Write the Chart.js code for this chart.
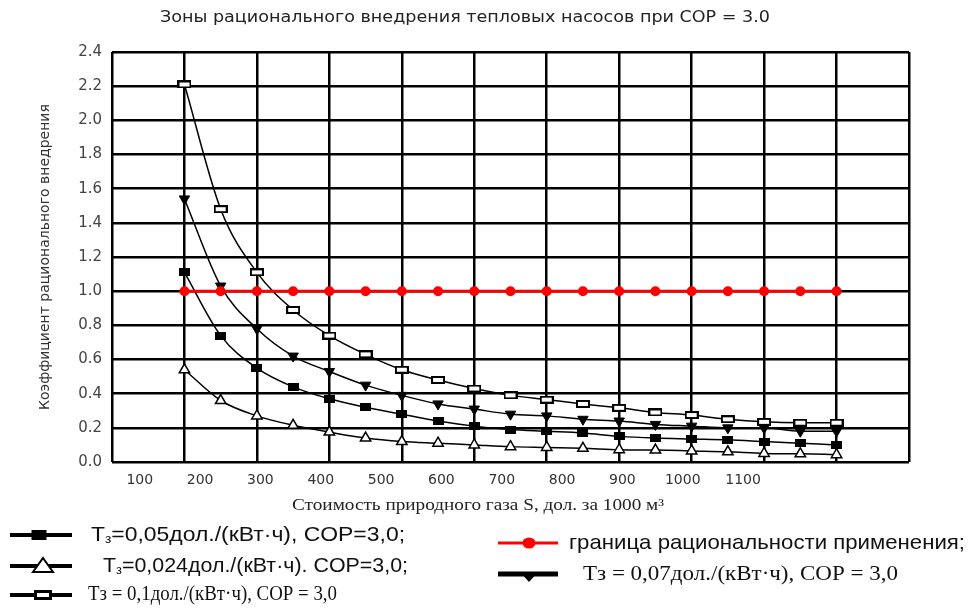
<!DOCTYPE html>
<html>
<head>
<meta charset="utf-8">
<script src="https://cdn.jsdelivr.net/npm/chart.js@4.4.1/dist/chart.umd.min.js"></script>
<style>
  html, body { margin: 0; padding: 0; background: #fff; }
  #wrap { width: 969px; height: 608px; position: relative; }
</style>
</head>
<body>
<div id="wrap"><canvas id="myChart"></canvas></div>
<script>
const chartTitle = 'Зоны рационального внедрения тепловых насосов при COP = 3.0';
const yTitle = 'Коэффициент рационального внедрения';
const xTitle = 'Стоимость природного газа S, дол. за 1000 м³';

// gas price S, $ per 1000 m3
const gasPrice = [100, 150, 200, 250, 300, 350, 400, 450, 500, 550, 600, 650, 700, 750, 800, 850, 900, 950, 1000];

const boundary   = [1.0, 1.0, 1.0, 1.0, 1.0, 1.0, 1.0, 1.0, 1.0, 1.0, 1.0, 1.0, 1.0, 1.0, 1.0, 1.0, 1.0, 1.0, 1.0];
const tariff005  = [1.11, 0.74, 0.55, 0.44, 0.37, 0.32, 0.28, 0.24, 0.21, 0.19, 0.18, 0.17, 0.15, 0.14, 0.135, 0.13, 0.12, 0.11, 0.10];
const tariff0024 = [0.54, 0.36, 0.27, 0.215, 0.175, 0.14, 0.12, 0.11, 0.10, 0.09, 0.085, 0.08, 0.072, 0.07, 0.065, 0.06, 0.05, 0.048, 0.043];
const tariff01   = [2.21, 1.48, 1.11, 0.89, 0.74, 0.63, 0.54, 0.48, 0.43, 0.39, 0.365, 0.34, 0.317, 0.29, 0.275, 0.25, 0.235, 0.23, 0.23];
const tariff007  = [1.54, 1.03, 0.78, 0.62, 0.53, 0.45, 0.39, 0.34, 0.31, 0.28, 0.27, 0.25, 0.24, 0.22, 0.21, 0.20, 0.20, 0.18, 0.18];

const xTickLabels = [100, 200, 300, 400, 500, 600, 700, 800, 900, 1000, 1100];
const yTickValues = [0, 0.2, 0.4, 0.6, 0.8, 1.0, 1.2, 1.4, 1.6, 1.8, 2.0, 2.2, 2.4];

const labels = {
  boundary: 'граница рациональности применения;',
  t005: 'Tз=0,05дол./(кВт·ч), COP=3,0;',
  t0024: 'Tз=0,024дол./(кВт·ч). COP=3,0;',
  t01: 'Tз = 0,1дол./(кВт·ч), COP = 3,0',
  t007: 'Tз = 0,07дол./(кВт·ч), COP = 3,0'
};

function pts(arr) {
  return gasPrice.map((s, i) => ({ x: s, y: arr[i] }));
}

function makeRect(w, h, fill, bw) {
  const c = document.createElement('canvas');
  c.width = w; c.height = h;
  const g = c.getContext('2d');
  g.fillStyle = '#000';
  g.fillRect(0, 0, w, h);
  if (bw > 0) {
    g.fillStyle = fill;
    g.fillRect(bw, bw, w - 2 * bw, h - 2 * bw);
  }
  return c;
}
const openRect = makeRect(14, 8, '#fff', 2);
const solidRect = makeRect(11, 8, '#000', 0);

const curve = {
  borderColor: '#000',
  borderWidth: 1.5,
  cubicInterpolationMode: 'monotone',
  pointBorderColor: '#000',
  fill: false
};

// legend drawn under the plot, two columns as in the source figure
const legendItems = [
  { key: 't005',  x1: 10,  x2: 72,  y: 535, lw: 4, color: '#000', mark: 'solidRect', mx: 39, tx: 91,  tw: 314, family: 'Liberation Sans', size: 21, sub: true },
  { key: 't0024', x1: 10,  x2: 72,  y: 566, lw: 4, color: '#000', mark: 'openTri',   mx: 43, tx: 103, tw: 305, family: 'Liberation Sans', size: 21, sub: true },
  { key: 't01',   x1: 10,  x2: 72,  y: 595, lw: 4, color: '#000', mark: 'openRect',  mx: 43, tx: 88,  tw: 249, family: 'Liberation Serif', size: 20, sub: false },
  { key: 'boundary', x1: 498, x2: 558, y: 543, lw: 3, color: '#ff0000', mark: 'redDot', mx: 529, tx: 569, tw: 396, family: 'Liberation Sans', size: 21, sub: false },
  { key: 't007',  x1: 498, x2: 558, y: 574, lw: 5, color: '#000', mark: 'solidTriDown', mx: 529, tx: 583, tw: 315, family: 'Liberation Serif', size: 21, sub: false }
];

// draw a line of text with a given font size, squeezed or widened to the width it has in the figure
function drawScaled(ctx, parts, family, size, x, y, width) {
  let total = 0;
  parts.forEach(p => {
    ctx.font = (p.sub ? size * 0.6 : size) + 'px "' + family + '"';
    total += ctx.measureText(p.t).width;
  });
  ctx.save();
  ctx.translate(x, y);
  ctx.scale(width / total, 1);
  let cx = 0;
  parts.forEach(p => {
    ctx.font = (p.sub ? size * 0.6 : size) + 'px "' + family + '"';
    ctx.fillText(p.t, cx, p.sub ? size * 0.22 : 0);
    cx += ctx.measureText(p.t).width;
  });
  ctx.restore();
}

function drawLegendText(ctx, item) {
  const text = labels[item.key];
  ctx.fillStyle = '#111';
  ctx.textBaseline = 'middle';
  ctx.textAlign = 'left';
  const parts = item.sub
    ? [{ t: text[0] }, { t: text[1], sub: true }, { t: text.slice(2) }]
    : [{ t: text }];
  drawScaled(ctx, parts, item.family, item.size, item.tx, item.y, item.tw);
}

function drawLegendMark(ctx, item) {
  const x = item.mx, y = item.y;
  ctx.lineWidth = 2;
  ctx.strokeStyle = '#000';
  if (item.mark === 'solidRect') {
    ctx.fillStyle = '#000';
    ctx.fillRect(x - 7.5, y - 5, 15, 10);
  } else if (item.mark === 'openRect') {
    ctx.fillStyle = '#000';
    ctx.fillRect(x - 9, y - 5, 18, 10);
    ctx.fillStyle = '#fff';
    ctx.fillRect(x - 6, y - 2, 12, 4);
  } else if (item.mark === 'openTri') {
    ctx.beginPath();
    ctx.moveTo(x, y - 8);
    ctx.lineTo(x + 10, y + 6);
    ctx.lineTo(x - 10, y + 6);
    ctx.closePath();
    ctx.fillStyle = '#fff';
    ctx.fill();
    ctx.stroke();
  } else if (item.mark === 'redDot') {
    ctx.fillStyle = '#ff0000';
    ctx.beginPath();
    ctx.ellipse(x, y, 6.5, 5.5, 0, 0, Math.PI * 2);
    ctx.fill();
  } else if (item.mark === 'solidTriDown') {
    ctx.fillStyle = '#000';
    ctx.beginPath();
    ctx.moveTo(x - 9, y - 2);
    ctx.lineTo(x + 9, y - 2);
    ctx.lineTo(x, y + 8);
    ctx.closePath();
    ctx.fill();
  }
}

const extrasPlugin = {
  id: 'extras',
  afterDraw(chart) {
    const ctx = chart.ctx;
    ctx.save();
    ctx.textBaseline = 'middle';
    ctx.textAlign = 'left';

    // chart title
    ctx.fillStyle = '#222';
    drawScaled(ctx, [{ t: chartTitle }], 'DejaVu Sans', 16, 160, 18, 610);

    // x axis title (sits left of the plot centre in the source)
    drawScaled(ctx, [{ t: xTitle }], 'Liberation Serif', 16, 292, 506, 372);

    legendItems.forEach(item => {
      ctx.strokeStyle = item.color;
      ctx.lineWidth = item.lw;
      ctx.beginPath();
      ctx.moveTo(item.x1, item.y);
      ctx.lineTo(item.x2, item.y);
      ctx.stroke();
      drawLegendMark(ctx, item);
      drawLegendText(ctx, item);
    });
    ctx.restore();
  }
};

Chart.defaults.font.family = 'DejaVu Sans';

const ctx = document.getElementById('myChart').getContext('2d');
const chart = new Chart(ctx, {
  type: 'line',
  data: {
    datasets: [{
      label: labels.boundary,
      data: pts(boundary),
      borderColor: '#ff0000',
      backgroundColor: '#ff0000',
      borderWidth: 3,
      pointRadius: 5,
      pointBorderWidth: 0,
      pointStyle: 'circle',
      fill: false
    }, {
      ...curve,
      label: labels.t005,
      data: pts(tariff005),
      pointStyle: solidRect,
      pointBackgroundColor: '#000'
    }, {
      ...curve,
      label: labels.t0024,
      data: pts(tariff0024),
      pointStyle: 'triangle',
      pointRadius: 6,
      pointBorderWidth: 1.5,
      pointBackgroundColor: '#fff'
    }, {
      ...curve,
      label: labels.t01,
      data: pts(tariff01),
      pointStyle: openRect
    }, {
      ...curve,
      label: labels.t007,
      data: pts(tariff007),
      pointStyle: 'triangle',
      pointRotation: 180,
      pointRadius: 6,
      pointBorderWidth: 1,
      pointBackgroundColor: '#000'
    }]
  },
  options: {
    responsive: true,
    maintainAspectRatio: false,
    animation: false,
    layout: { padding: { top: 52, right: 60, bottom: 116, left: 0 } },
    plugins: {
      legend: { display: false },
      title: { display: false },
      tooltip: { enabled: false }
    },
    scales: {
      x: {
        type: 'linear',
        position: 'bottom',
        weight: 0,
        min: 0,
        max: 1100,
        ticks: { display: false, stepSize: 100 },
        grid: { color: '#000', lineWidth: 2.5, drawTicks: false },
        border: { display: false },
        afterFit: (scale) => { scale.height = 0; }
      },
      x2: {
        type: 'linear',
        position: 'bottom',
        weight: 1,
        min: 54,
        max: 1375,
        afterBuildTicks: (scale) => { scale.ticks = xTickLabels.map(v => ({ value: v })); },
        ticks: { color: '#333', font: { size: 14 }, padding: 10, autoSkip: false, maxRotation: 0, callback: (v) => String(v) },
        grid: { display: false, drawTicks: false },
        border: { display: false },
        afterFit: (scale) => { scale.height = 30; }
      },
      y: {
        min: 0,
        max: 2.4,
        afterBuildTicks: (scale) => { scale.ticks = yTickValues.map(v => ({ value: v })); },
        ticks: { color: '#444', font: { size: 15 }, padding: 10, callback: (v) => Number(v).toFixed(1) },
        grid: { color: '#000', lineWidth: 2.5, drawTicks: false },
        border: { display: false },
        title: { display: true, text: yTitle, color: '#333', font: { size: 14 }, padding: { top: 37, bottom: 0 } },
        afterFit: (scale) => { scale.width = 112; }
      }
    }
  },
  plugins: [extrasPlugin]
});
</script>
</body>
</html>
